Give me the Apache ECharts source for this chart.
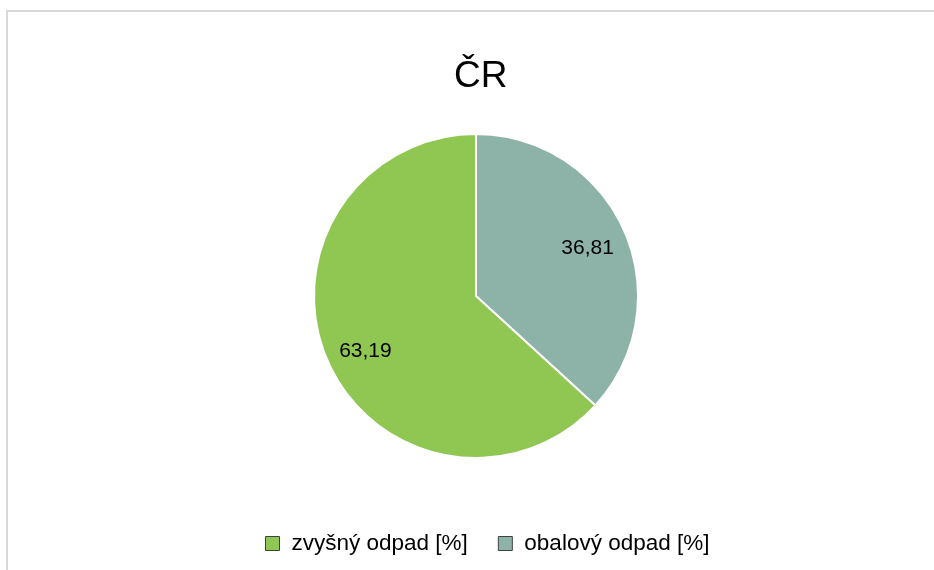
<!DOCTYPE html>
<html>
<head>
<meta charset="utf-8">
<script src="https://cdn.jsdelivr.net/npm/echarts@6/dist/echarts.min.js"></script>
<style>
  html, body { margin: 0; padding: 0; background: #fff; }
  #main { width: 934px; height: 570px; }
</style>
</head>
<body>
<div id="main"></div>
<script>
// data
const categories = ['obalový odpad [%]', 'zvyšný odpad [%]'];
const values = [36.81, 63.19];
const legendOrder = ['zvyšný odpad [%]', 'obalový odpad [%]'];

// styling
const colors = ['#8db3a9', '#8fc752'];
const labelShift = [[-1, 2], [2, 6]];
const font = '"Liberation Sans", Arial, sans-serif';

const myChart = echarts.init(document.getElementById('main'));
const option = {
  animation: false,
  graphic: [{
    type: 'rect',
    shape: { x: 7, y: 11, width: 1000, height: 1000 },
    style: { fill: 'none', stroke: '#d9d9d9', lineWidth: 2 },
    silent: true
  }],
  title: {
    text: 'ČR',
    left: 449,
    top: 53,
    textStyle: { fontFamily: font, fontSize: 37, fontWeight: 'normal', color: '#000' }
  },
  legend: {
    data: legendOrder,
    left: 260,
    top: 527,
    icon: 'rect',
    itemWidth: 14,
    itemHeight: 14,
    itemGap: 30,
    itemStyle: { borderColor: '#404040', borderWidth: 1 },
    textStyle: { fontFamily: font, fontSize: 22.5, color: '#000', padding: [0, 0, 0, 7] }
  },
  series: [
    {
      name: 'ČR',
      type: 'pie',
      center: [476, 296],
      radius: 162,
      startAngle: 90,
      clockwise: true,
      label: { show: false },
      labelLine: { show: false },
      itemStyle: { borderColor: '#fff', borderWidth: 2 },
      data: categories.map((c, i) => ({ name: c, value: values[i], itemStyle: { color: colors[i] } }))
    },
    {
      // transparent ring only to place the value labels
      name: 'labels',
      type: 'pie',
      center: [476, 296],
      radius: [78, 162],
      silent: true,
      startAngle: 90,
      clockwise: true,
      itemStyle: { color: 'rgba(0,0,0,0)' },
      label: {
        show: true,
        position: 'inside',
        fontFamily: font,
        fontSize: 21,
        color: '#000',
        formatter: p => p.value.toFixed(2).replace('.', ',')
      },
      labelLine: { show: false },
      data: categories.map((c, i) => ({ name: c, value: values[i], label: { offset: labelShift[i] } }))
    }
  ]
};
myChart.setOption(option);
</script>
</body>
</html>
